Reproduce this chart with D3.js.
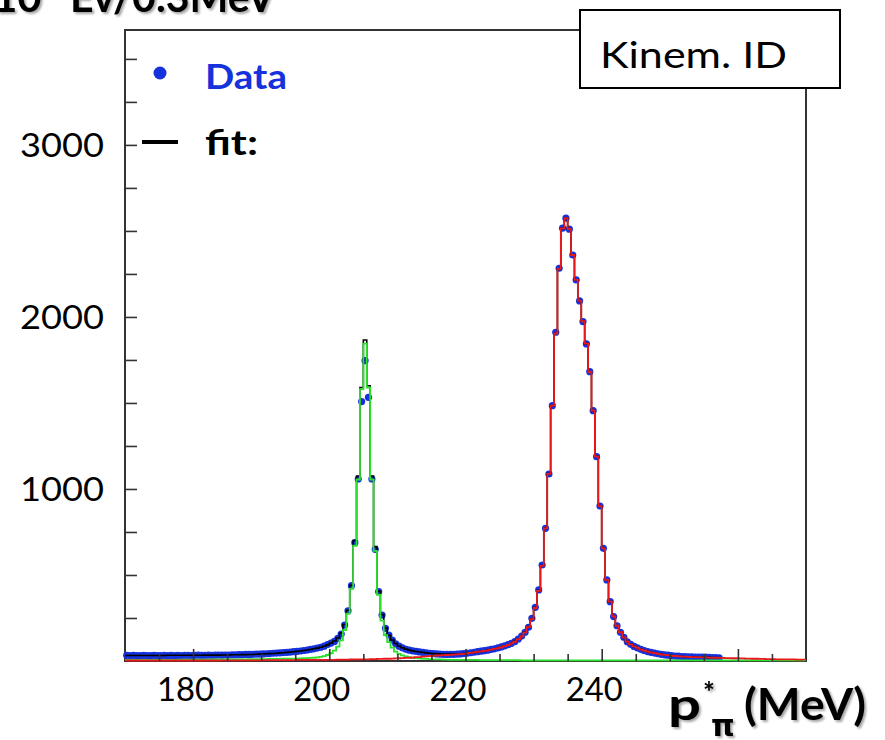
<!DOCTYPE html>
<html>
<head>
<meta charset="utf-8">
<script src="https://cdn.jsdelivr.net/npm/d3@7/dist/d3.min.js"></script>
<style>
  html, body { margin: 0; padding: 0; background: #fff; }
  svg { display: block; }
</style>
</head>
<body>
<svg id="chart" width="885" height="740"></svg>
<script>
// ---------------- DATA ----------------
// histogram binning (MeV)
const binLow = 170;
const binWidth = 0.5;

// measured counts per 0.5 MeV bin, bins from 170 to 257.5 MeV
const dataCounts = [
  33,32,33,31,32,33,32,31,33,32,
  32,33,32,33,31,33,32,33,33,32,
  33,34,33,33,34,33,34,35,34,35,
  35,36,36,37,37,38,38,39,40,40,
  41,42,43,45,46,47,49,50,52,54,
  56,58,61,64,67,71,75,80,86,96,
  104,114,132,157,209,292,438,688,1058,1508,
  1746,1533,1058,649,403,267,190,151,122,100,
  86,76,68,63,59,56,53,50,47,45,
  43,41,40,39,39,39,39,40,41,43,
  45,48,51,54,57,60,63,67,71,76,
  82,88,95,103,113,128,145,167,196,248,
  312,413,558,771,1087,1484,1911,2283,2516,2574,
  2510,2360,2215,2093,1973,1843,1682,1455,1188,901,
  655,471,345,258,205,167,138,112,97,85,
  76,68,61,55,50,46,42,39,36,34,
  31,29,28,26,25,24,24,23,23,22,
  22,21,20,20,19
];

// total fit (black), same bins as data
const fitTotal = [
  32,32,32,32,32,32,32,32,32,32,
  32,32,33,33,33,33,33,33,33,33,
  33,33,33,34,34,34,34,34,35,35,
  35,36,36,36,37,37,38,38,39,40,
  41,42,43,44,45,47,48,50,52,54,
  56,58,61,64,67,71,75,80,86,94,
  104,116,134,162,212,295,440,700,1075,1590,
  1866,1600,1075,665,405,270,192,150,122,102,
  87,77,69,63,59,55,52,50,47,45,
  43,42,41,40,40,40,40,40,41,43,
  45,47,50,53,56,60,63,67,71,76,
  81,87,94,103,114,128,146,168,200,245,
  310,410,555,775,1090,1485,1905,2280,2515,2575,
  2510,2360,2215,2095,1975,1845,1680,1455,1190,900,
  655,472,345,260,205,167,137,113,97,85,
  76,68,61,55,50,46,42,39,36,34,
  31,29,28,26,25,24,24,23,23,22,
  22,21,20,20,19
];

// first-peak fit component (green), bins from 170 to 270 MeV
const fitPeak1 = [
  7,7,7,7,7,7,7,7,7,7,
  7,7,7,7,7,7,8,8,8,8,
  8,8,8,8,8,9,9,9,9,9,
  9,10,10,10,10,10,11,11,11,11,
  11,11,12,12,12,12,13,13,13,14,
  14,15,16,17,18,19,21,24,28,35,
  45,60,83,120,180,275,420,670,1055,1580,
  1845,1590,1055,640,385,235,150,110,78,55,
  42,33,27,23,19,17,15,13,12,11,
  10,9,9,8,8,7,7,7,6,6,
  6,6,6,6,5,5,5,5,5,5,
  5,5,5,5,5,5,4,4,4,4,
  4,4,4,4,4,4,4,4,4,4,
  4,4,4,4,4,4,4,4,4,4,
  4,4,4,4,4,4,4,4,4,4,
  4,4,4,4,4,4,4,4,4,4,
  4,4,4,4,4,4,4,4,4,4,
  4,4,4,4,4,4,4,4,4,4,
  4,4,4,4,4,4,4,4,4,4,
  4,4,4,4,4,4,4,4,4,4
];

// second-peak fit component (red), bins from 170 to 270 MeV
const fitPeak2 = [
  3,3,3,3,3,3,3,3,3,3,
  3,3,3,3,3,3,3,3,3,3,
  3,3,3,3,3,3,3,3,4,4,
  4,4,4,4,4,4,4,4,4,4,
  4,5,5,5,5,5,5,5,5,5,
  6,6,6,6,6,6,6,7,7,7,
  7,7,8,8,8,8,9,9,9,10,
  10,10,11,11,12,12,13,13,14,15,
  16,17,18,19,20,22,23,25,27,29,
  30,32,33,34,35,36,37,38,40,42,
  44,47,50,53,56,59,62,66,70,75,
  80,86,93,102,112,127,144,166,198,244,
  308,408,553,772,1088,1484,1905,2280,2515,2575,
  2510,2360,2215,2095,1975,1845,1680,1455,1190,900,
  655,472,345,260,205,167,137,113,97,85,
  76,68,61,55,50,46,42,39,36,34,
  31,29,28,26,25,24,23,22,22,21,
  21,20,19,19,18,18,17,17,16,16,
  15,15,14,14,13,13,12,12,11,11,
  11,10,10,10,9,9,9,8,8,8
];

const xDomain = [170, 270];
const yDomain = [0, 3668];
const xMajorTicks = [180, 200, 220, 240, 260];
const xTickLabels = ["180", "200", "220", "240", ""];
const xMinorTicks = [175,185,190,195,205,210,215,225,230,235,245,250,255,265];
const yMajorTicks = [1000, 2000, 3000];
const yTickLabels = ["1000", "2000", "3000"];
const yMinorTicks = [250,500,750,1250,1500,1750,2250,2500,2750,3250,3500];

const titleText = "10";
const titleSup = "3";
const titleRest = "Ev/0.3MeV";
const boxLabel = "Kinem. ID";
const legendData = "Data";
const legendFit = "fit:";

// ---------------- DRAW ----------------
const svg = d3.select("#chart");
const L = 125, R = 806, T = 30, B = 661;
const x = d3.scaleLinear().domain(xDomain).range([L, R]);
const y = d3.scaleLinear().domain(yDomain).range([B, T]);

const FONT = "Lato, 'Open Sans', 'DejaVu Sans', sans-serif";
const BLUE = "#1532dc";

// drop-shadow filter for the bold titles
const defs = svg.append("defs");
const flt = defs.append("filter").attr("id", "shadow")
  .attr("x", "-10%").attr("y", "-30%").attr("width", "130%").attr("height", "170%");
flt.append("feDropShadow").attr("dx", 2).attr("dy", 2).attr("stdDeviation", 1)
  .attr("flood-color", "#000").attr("flood-opacity", 0.35);

// frame
svg.append("rect").attr("x", L).attr("y", T).attr("width", R - L).attr("height", B - T)
  .attr("fill", "none").attr("stroke", "#333").attr("stroke-width", 2);

// data points
svg.append("g").selectAll("circle").data(dataCounts).join("circle")
  .attr("cx", (d, i) => x(binLow + (i + 0.5) * binWidth))
  .attr("cy", d => y(d))
  .attr("r", 3.6)
  .attr("fill", BLUE);

function stepPts(arr) {
  const pts = arr.map((v, i) => [binLow + i * binWidth, v]);
  pts.push([binLow + arr.length * binWidth, arr[arr.length - 1]]);
  return pts;
}
const stepLine = d3.line().x(d => x(d[0])).y(d => y(d[1])).curve(d3.curveStepAfter);

svg.append("path").attr("d", stepLine(stepPts(fitTotal)))
  .attr("fill", "none").attr("stroke", "#000").attr("stroke-width", 1.6);
svg.append("path").attr("d", stepLine(stepPts(fitPeak1)))
  .attr("fill", "none").attr("stroke", "#2ee02e").attr("stroke-width", 1.8);
svg.append("path").attr("d", stepLine(stepPts(fitPeak2)))
  .attr("fill", "none").attr("stroke", "#e8181c").attr("stroke-width", 1.8);

// axes
function styleAxis(g) {
  g.select(".domain").remove();
  g.selectAll(".tick line").attr("stroke", "#333").attr("stroke-width", 1.6);
}
svg.append("g").attr("transform", `translate(0,${B})`)
  .call(d3.axisBottom(x).tickValues(xMinorTicks).tickSize(-7).tickFormat(""))
  .call(styleAxis);
const xAx = svg.append("g").attr("transform", `translate(0,${B})`)
  .call(d3.axisBottom(x).tickValues(xMajorTicks).tickSize(-12).tickPadding(17)
    .tickFormat((d, i) => xTickLabels[i]))
  .call(styleAxis);
xAx.selectAll("text").filter(function () { return this.textContent !== ""; })
  .attr("font-family", FONT).attr("font-size", 33)
  .attr("fill", "#000").attr("dx", -8).attr("textLength", 57).attr("lengthAdjust", "spacingAndGlyphs");

svg.append("g").attr("transform", `translate(${L},0)`)
  .call(d3.axisLeft(y).tickValues(yMinorTicks).tickSize(-12).tickFormat(""))
  .call(styleAxis);
const yAx = svg.append("g").attr("transform", `translate(${L},0)`)
  .call(d3.axisLeft(y).tickValues(yMajorTicks).tickSize(-12).tickPadding(21)
    .tickFormat((d, i) => yTickLabels[i]))
  .call(styleAxis);
yAx.selectAll("text").attr("font-family", FONT).attr("font-size", 33)
  .attr("fill", "#000").attr("dy", "0.36em").attr("textLength", 84).attr("lengthAdjust", "spacingAndGlyphs");

// box label
svg.append("rect").attr("x", 580).attr("y", 10).attr("width", 260).attr("height", 78)
  .attr("fill", "#fff").attr("stroke", "#000").attr("stroke-width", 2);
svg.append("text").attr("x", 600).attr("y", 68).attr("font-family", FONT).attr("font-size", 37)
  .attr("textLength", 187).attr("lengthAdjust", "spacingAndGlyphs").text(boxLabel);

// legend
svg.append("circle").attr("cx", 160).attr("cy", 73).attr("r", 6.5).attr("fill", BLUE);
svg.append("text").attr("x", 205).attr("y", 89).attr("font-family", FONT).attr("font-size", 35)
  .attr("font-weight", "bold").attr("fill", BLUE)
  .attr("textLength", 82).attr("lengthAdjust", "spacingAndGlyphs").text(legendData);
svg.append("line").attr("x1", 142).attr("x2", 178).attr("y1", 142).attr("y2", 142)
  .attr("stroke", "#000").attr("stroke-width", 4);
svg.append("text").attr("x", 205).attr("y", 155).attr("font-family", FONT).attr("font-size", 35)
  .attr("font-weight", "bold").attr("fill", "#000")
  .attr("textLength", 53).attr("lengthAdjust", "spacingAndGlyphs").text(legendFit);

// title (clipped at the top edge, as in the reference)
const tt = svg.append("text").attr("font-family", FONT).attr("font-weight", "bold")
  .attr("font-size", 42).attr("filter", "url(#shadow)");
tt.append("tspan").attr("x", -7).attr("y", 12).text(titleText);
tt.append("tspan").attr("x", 46).attr("y", -6).attr("font-size", 26).text(titleSup);
tt.append("tspan").attr("x", 60).attr("y", 12).attr("textLength", 215)
  .attr("lengthAdjust", "spacingAndGlyphs").text(" " + titleRest);

// x axis title p*_pi (MeV)
const at = svg.append("text").attr("font-family", FONT).attr("font-weight", "bold")
  .attr("font-size", 44).attr("filter", "url(#shadow)");
at.append("tspan").attr("x", 668).attr("y", 720).attr("textLength", 33)
  .attr("lengthAdjust", "spacingAndGlyphs").text("p");
at.append("tspan").attr("x", 703).attr("y", 702).attr("font-size", 28).text("*");
at.append("tspan").attr("x", 711).attr("y", 736).attr("font-size", 30)
  .attr("font-family", "'DejaVu Sans', sans-serif").text("π");
at.append("tspan").attr("x", 744).attr("y", 720).attr("textLength", 122)
  .attr("lengthAdjust", "spacingAndGlyphs").text("(MeV)");
</script>
</body>
</html>
